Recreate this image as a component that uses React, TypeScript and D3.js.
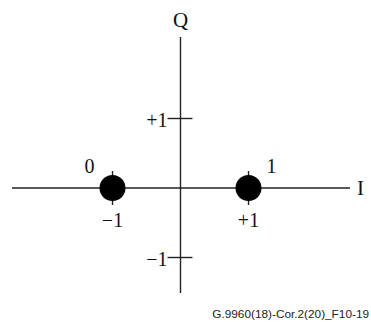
import React from "react";
import * as d3 from "d3";

const symbols = [
  { i: -1, q: 0, bit: "0", label: "−1" },
  { i: 1, q: 0, bit: "1", label: "+1" },
];
const qTicks = [
  { v: 1, label: "+1" },
  { v: -1, label: "−1" },
];
const axisNames = { i: "I", q: "Q" };
const footnote = "G.9960(18)-Cor.2(20)_F10-19";

const W = 371;
const H = 324;

export default function App() {
  const x = d3.scaleLinear().domain([-1, 1]).range([112.5, 248.5]);
  const y = d3.scaleLinear().domain([-1, 1]).range([257.5, 118.5]);
  const cx = x(0);
  const cy = y(0);
  const stroke = "#222";
  const serif = "'Liberation Serif', 'Times New Roman', serif";
  const fs = 20;
  return (
    <svg
      width={W}
      height={H}
      style={{ position: "absolute", left: 0, top: 0, background: "#fff" }}
    >
      {/* axes */}
      <line x1={12} x2={350} y1={cy} y2={cy} stroke={stroke} strokeWidth={1.4} />
      <line x1={cx} x2={cx} y1={37} y2={293} stroke={stroke} strokeWidth={1.4} />
      <text x={cx} y={27} textAnchor="middle" fontFamily={serif} fontSize={21} fill="#111">
        {axisNames.q}
      </text>
      <text x={357} y={cy + 7} textAnchor="start" fontFamily={serif} fontSize={21} fill="#111">
        {axisNames.i}
      </text>
      {/* Q ticks */}
      {qTicks.map((t) => (
        <g key={t.label}>
          <line x1={cx - 13} x2={cx + 12} y1={y(t.v)} y2={y(t.v)} stroke={stroke} strokeWidth={1.4} />
          <text
            x={cx - 13}
            y={y(t.v) + 8}
            textAnchor="end"
            fontFamily={serif}
            fontSize={fs}
            fill="#111"
          >
            {t.label}
          </text>
        </g>
      ))}
      {/* constellation points */}
      {symbols.map((s) => (
        <g key={s.bit}>
          <line x1={x(s.i)} x2={x(s.i)} y1={y(s.q) - 17} y2={y(s.q) + 17} stroke={stroke} strokeWidth={1.4} />
          <circle cx={x(s.i)} cy={y(s.q)} r={13} fill="#000" />
          <text
            x={x(s.i) + (s.i < 0 ? -23 : 23)}
            y={y(s.q) - 15}
            textAnchor="middle"
            fontFamily={serif}
            fontSize={fs}
            fill="#111"
          >
            {s.bit}
          </text>
          <text
            x={x(s.i)}
            y={y(s.q) + 39}
            textAnchor="middle"
            fontFamily={serif}
            fontSize={fs}
            fill="#111"
          >
            {s.label}
          </text>
        </g>
      ))}
      <text
        x={369}
        y={318}
        textAnchor="end"
        fontFamily="'Liberation Sans', Arial, sans-serif"
        fontSize={11.8}
        fill="#222"
      >
        {footnote}
      </text>
    </svg>
  );
}
